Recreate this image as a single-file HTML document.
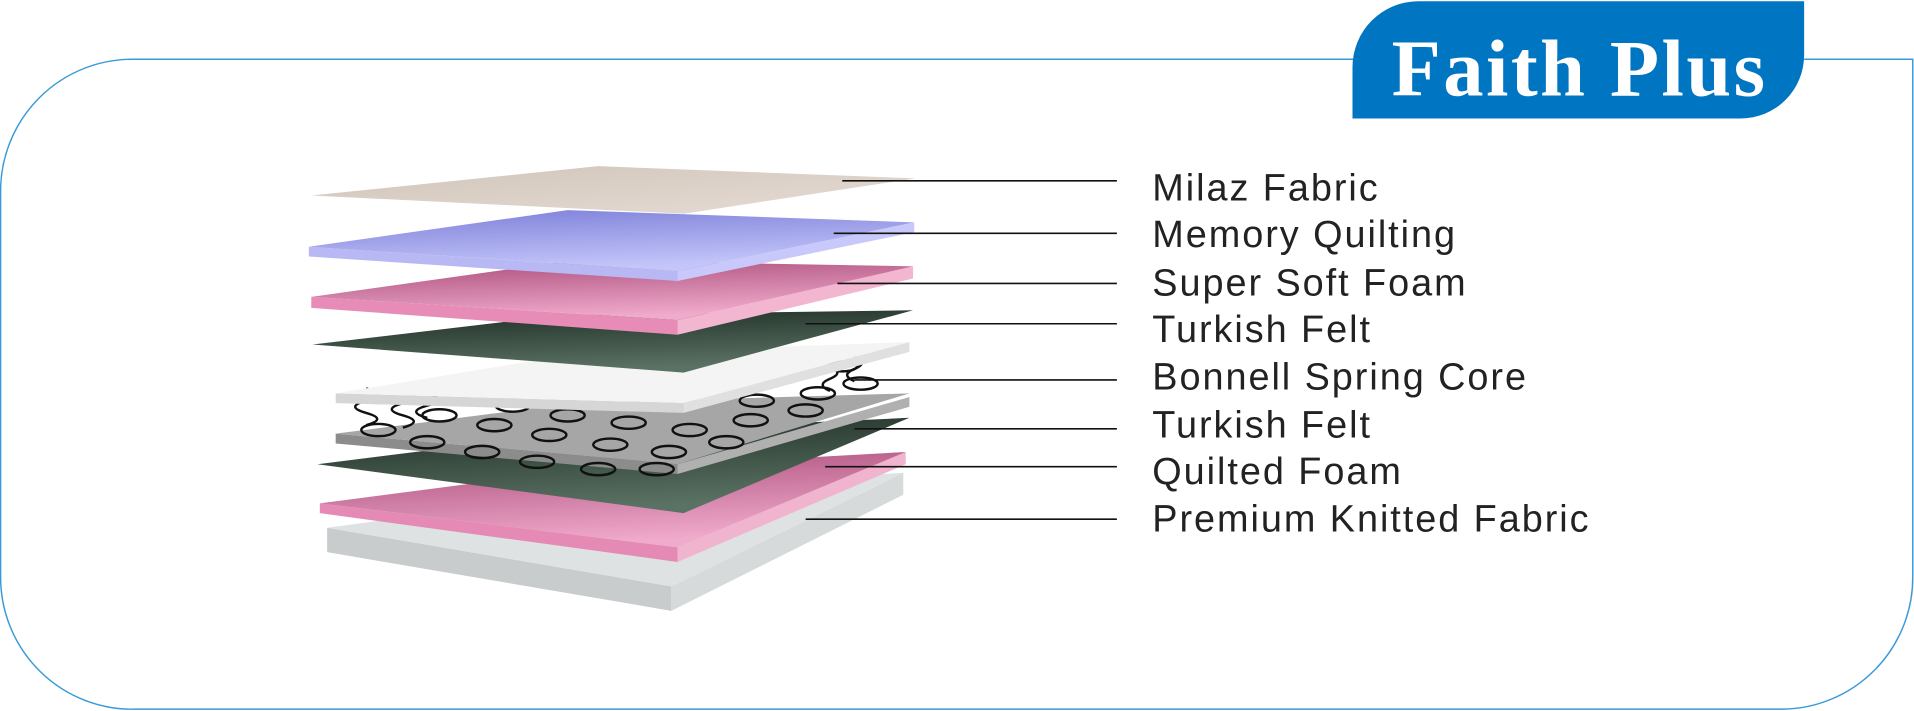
<!DOCTYPE html>
<html><head><meta charset="utf-8"><style>
html,body{margin:0;padding:0;background:#fff;width:1914px;height:711px;overflow:hidden}
svg{display:block}
</style></head><body>
<svg width="1914" height="711" viewBox="0 0 1568 582" preserveAspectRatio="none" xmlns="http://www.w3.org/2000/svg">
<defs>
<linearGradient id="blue" x1="0" y1="0" x2="0.3" y2="1"><stop offset="0" stop-color="#7c7fd8"/><stop offset="1" stop-color="#c4c6fa"/></linearGradient>
<linearGradient id="pink" x1="0" y1="0" x2="0.3" y2="1"><stop offset="0" stop-color="#a84a78"/><stop offset="1" stop-color="#f0aacb"/></linearGradient>
<linearGradient id="green" x1="0" y1="0" x2="0.3" y2="1"><stop offset="0" stop-color="#1c2a22"/><stop offset="1" stop-color="#5a7263"/></linearGradient>
<linearGradient id="beige" x1="0" y1="0" x2="1" y2="1"><stop offset="0" stop-color="#cfc5b8"/><stop offset="1" stop-color="#e6dcd6"/></linearGradient>
</defs>
<path d="M1110 48.5 H110 A108 108 0 0 0 0.5 158 V472 A108 108 0 0 0 110 580.5 H1460 A108 108 0 0 0 1567 472 V48.5 H1478" fill="none" stroke="#3a9ad8" stroke-width="1.2"/>
<path d="M1108 97 V55 A54 54 0 0 1 1162 1 H1478 V45 A52 52 0 0 1 1426 97 Z" fill="#0075c2"/>
<text x="1294" y="78" text-anchor="middle" font-family="Liberation Serif, serif" font-weight="bold" font-size="66" fill="#fff" letter-spacing="2">Faith Plus</text>

<polygon points="268,432 550,480 550,500 268,452" fill="#c8cccc"/>
<polygon points="550,480 740,387 740,405 550,500" fill="#d6dada"/>
<polygon points="268,432 470,405 740,387 550,480" fill="#dfe2e2"/>
<polygon points="262,412 555,448 555,460 262,420" fill="#e58ab4"/>
<polygon points="555,448 742,370 742,380 555,460" fill="#f0b4cf"/>
<polygon points="262,412 470,385 742,370 555,448" fill="url(#pink)"/>
<polygon points="260,380 460,355 745,342 560,420" fill="url(#green)"/>
<polygon points="275,355 555,380 555,388 275,363" fill="#8c8c8c"/>
<polygon points="555,380 745,325 745,333 555,388" fill="#b0b0b0"/>
<polygon points="275,355 470,330 745,322 555,380" fill="#a6a6a6"/>
<g fill="none" stroke="#111" stroke-width="2">
<ellipse cx="310" cy="352" rx="14" ry="5"/><ellipse cx="350" cy="362" rx="14" ry="5"/><ellipse cx="395" cy="370" rx="14" ry="5"/><ellipse cx="440" cy="378" rx="14" ry="5"/><ellipse cx="490" cy="384" rx="14" ry="5"/><ellipse cx="538" cy="384" rx="14" ry="5"/>
<ellipse cx="360" cy="340" rx="14" ry="5"/><ellipse cx="405" cy="348" rx="14" ry="5"/><ellipse cx="450" cy="356" rx="14" ry="5"/><ellipse cx="500" cy="364" rx="14" ry="5"/><ellipse cx="548" cy="370" rx="14" ry="5"/><ellipse cx="595" cy="362" rx="14" ry="5"/>
<ellipse cx="420" cy="332" rx="14" ry="5"/><ellipse cx="465" cy="340" rx="14" ry="5"/><ellipse cx="515" cy="346" rx="14" ry="5"/><ellipse cx="565" cy="352" rx="14" ry="5"/><ellipse cx="615" cy="344" rx="14" ry="5"/><ellipse cx="660" cy="336" rx="14" ry="5"/>
<ellipse cx="620" cy="328" rx="14" ry="5"/><ellipse cx="670" cy="322" rx="14" ry="5"/><ellipse cx="705" cy="314" rx="14" ry="5"/><ellipse cx="690" cy="300" rx="12" ry="4"/>
<path d="M300 318 q18 5 0 10 q-18 5 0 10 q18 5 0 10"/><path d="M330 320 q18 5 0 10 q-18 5 0 10 q18 5 0 10"/><path d="M350 322 q18 5 0 10 q-18 5 0 10"/>
<path d="M700 292 q12 5 0 10 q-12 5 0 10"/><path d="M680 300 q12 5 0 10 q-12 5 0 10"/>
</g>
<polygon points="275,322 560,330 560,338 275,330" fill="#d6d6d6"/>
<polygon points="560,330 745,280 745,288 560,338" fill="#e0e0e0"/>
<polygon points="275,322 470,290 745,280 560,330" fill="#f4f4f4"/>
<polygon points="256,282 460,258 748,254 560,305" fill="url(#green)"/>
<polygon points="255,243 555,262 555,274 255,252" fill="#e68cb6"/>
<polygon points="555,262 748,218 748,228 555,274" fill="#f2b6d0"/>
<polygon points="255,243 470,213 748,218 555,262" fill="url(#pink)"/>
<polygon points="253,202 555,222 555,230 253,210" fill="#b8b8f4"/>
<polygon points="555,222 749,182 749,190 555,230" fill="#c8c8fa"/>
<polygon points="253,202 465,172 749,182 555,222" fill="url(#blue)"/>
<polygon points="255,160 490,136 750,146 560,175" fill="url(#beige)"/>

<g stroke="#111" stroke-width="1.3">
<line x1="690" y1="148" x2="915" y2="148"/>
<line x1="683" y1="191" x2="915" y2="191"/>
<line x1="686" y1="232" x2="915" y2="232"/>
<line x1="660" y1="265" x2="915" y2="265"/>
<line x1="700" y1="311" x2="915" y2="311"/>
<line x1="700" y1="351" x2="915" y2="351"/>
<line x1="676" y1="382" x2="915" y2="382"/>
<line x1="660" y1="425" x2="915" y2="425"/>
</g>
<g font-family="Liberation Sans, sans-serif" font-size="31" fill="#222" letter-spacing="1.6">
<text x="944" y="164">Milaz Fabric</text>
<text x="944" y="202">Memory Quilting</text>
<text x="944" y="242">Super Soft Foam</text>
<text x="944" y="280">Turkish Felt</text>
<text x="944" y="319">Bonnell Spring Core</text>
<text x="944" y="358">Turkish Felt</text>
<text x="944" y="396">Quilted Foam</text>
<text x="944" y="435">Premium Knitted Fabric</text>
</g>
</svg>
</body></html>
